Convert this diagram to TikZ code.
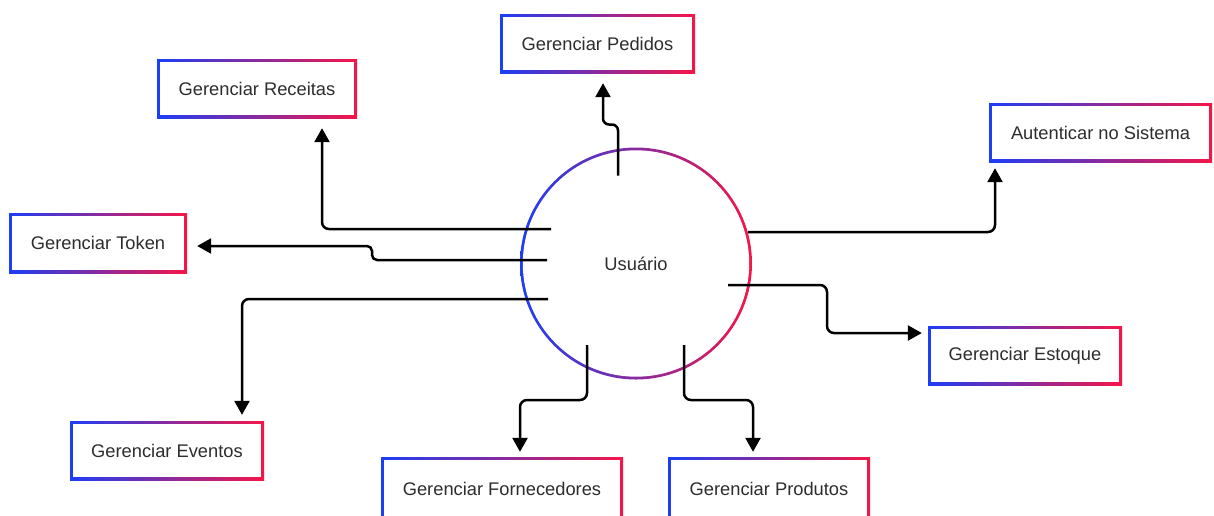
\documentclass[tikz,border=0pt]{standalone}
\usepackage{fontspec}
\setmainfont{Liberation Sans}
\usetikzlibrary{arrows.meta,calc}
\definecolor{gblue}{RGB}{28,62,245}
\definecolor{gred}{RGB}{245,22,72}
\definecolor{txt}{RGB}{45,45,45}
\newcommand{\boxfont}{\fontsize{18.3}{22}\selectfont}
\tikzset{
  gbox/.style={rectangle, inner sep=0pt, left color=gblue, right color=gred,
    text=txt, font=\boxfont, minimum height=59pt,
    path picture={\fill[white] ([shift={(2.8pt,2.8pt)}]path picture bounding box.south west)
      rectangle ([shift={(-2.8pt,-2.8pt)}]path picture bounding box.north east);}},
  gcircle/.style={circle, inner sep=0pt, minimum size=232pt, left color=gblue, right color=gred,
    text=txt, font=\boxfont,
    path picture={\fill[white] (path picture bounding box.center) circle[radius=113.2pt];}},
  conn/.style={draw=black, line width=2.5pt, rounded corners=7pt,
    -{Triangle[width=15pt,length=14pt]}},
}
\begin{document}
\begin{tikzpicture}[x=1pt,y=-1pt]
\fill[white] (0,0) rectangle (1214,515);
\useasboundingbox (0,0) rectangle (1214,515);

\node[gcircle] (usr) at (636,263.5) {Usuário};

\node[gbox, minimum width=195pt] (ped) at (597.5,43.5) {Gerenciar Pedidos};
\node[gbox, minimum width=200pt] (rec) at (257,88.5) {Gerenciar Receitas};
\node[gbox, minimum width=223pt] (aut) at (1100.5,132.5) {Autenticar no Sistema};
\node[gbox, minimum width=178pt, minimum height=60pt] (tok) at (98,243) {Gerenciar Token};
\node[gbox, minimum width=194pt] (est) at (1025,355.5) {Gerenciar Estoque};
\node[gbox, minimum width=194pt] (eve) at (167,450.5) {Gerenciar Eventos};
\node[gbox, minimum width=242pt, minimum height=63pt] (for) at (502,488.5) {Gerenciar Fornecedores};
\node[gbox, minimum width=202pt, minimum height=63pt] (pro) at (769,488.5) {Gerenciar Produtos};

\coordinate (sPed) at ($(usr.center)+(-18,-88)$);
\coordinate (sRec) at ($(usr.center)+(-85,-34.5)$);
\coordinate (sTok) at ($(usr.center)+(-89,-3.5)$);
\coordinate (sEve) at ($(usr.center)+(-88,35.5)$);
\coordinate (sFor) at ($(usr.center)+(-49,81.5)$);
\coordinate (sPro) at ($(usr.center)+(48,81.5)$);
\coordinate (sEst) at ($(usr.center)+(92,21.5)$);
\coordinate (sAut) at ($(usr.center)+(112,-31.5)$);

\draw[conn, rounded corners=6pt] (sPed) -- ++(0,-51) -| ([xshift=5.5pt,yshift=-10pt]ped.south);
\draw[conn] (sRec) -| ([xshift=65pt,yshift=-10pt]rec.south);
\draw[conn, rounded corners=5pt] (sTok) -- ++(-175,0) |- ([xshift=10pt,yshift=-3pt]tok.east);
\draw[conn] (sEve) -| ([xshift=75pt,yshift=6pt]eve.north);
\draw[conn] (sFor) -- ++(0,55) -| ([xshift=18pt,yshift=5pt]for.north);
\draw[conn] (sPro) -- ++(0,55) -| ([xshift=-16pt,yshift=5pt]pro.north);
\draw[conn] (sEst) -- ++(99,0) |- ([xshift=-6pt,yshift=22.5pt]est.west);
\draw[conn] (sAut) -| ([xshift=-105.5pt,yshift=-6pt]aut.south);
\end{tikzpicture}
\end{document}
